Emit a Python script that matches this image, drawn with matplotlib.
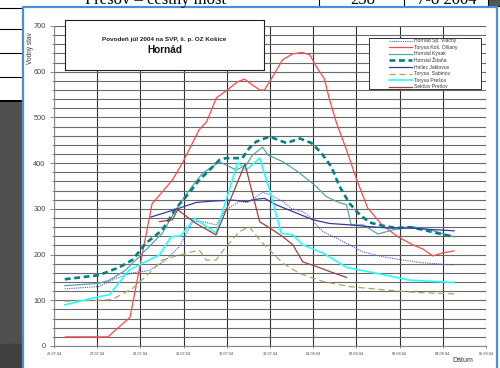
import matplotlib
matplotlib.use('Agg')
import matplotlib.pyplot as plt
from matplotlib.patches import Rectangle

plt.rcParams['font.family'] = ['Liberation Sans', 'DejaVu Sans']

# Days counted from 26.07.04 00:00
date_labels = ['26.07.04', '27.07.04', '28.07.04', '29.07.04', '30.07.04', '31.07.04',
               '01.08.04', '02.08.04', '03.08.04', '04.08.04', '05.08.04']

sp_vlachy_t = [0.25, 1.04, 1.43, 1.82, 2.2, 2.59, 2.9, 3.21, 3.44, 3.75, 3.98, 4.29, 4.48, 4.83, 5.03,
               5.3, 5.49, 5.76, 5.92, 6.07, 6.23, 6.54, 6.84, 7.15, 7.62, 8.08, 8.54, 9.0, 9.26]
sp_vlachy_v = [125, 130, 148, 160, 165, 188, 217, 272, 272, 265, 298, 316, 314, 336, 330,
               316, 301, 294, 283, 265, 250, 236, 221, 206, 195, 188, 182, 179, 177]

olsany_t = [0.26, 1.25, 1.76, 2.27, 2.74, 2.97, 3.36, 3.53, 3.76, 4.01, 4.25, 4.41, 4.52, 4.76, 4.87,
            5.06, 5.29, 5.52, 5.75, 5.92, 6.08, 6.26, 6.38, 6.54, 6.77, 7.01, 7.26, 7.59, 7.96, 8.31,
            8.54, 8.77, 9.0, 9.26]
olsany_v = [20, 20, 63, 311, 363, 400, 473, 490, 543, 560, 578, 584, 576, 560, 560,
            589, 626, 639, 642, 637, 610, 584, 538, 488, 429, 363, 302, 265, 239, 221,
            212, 197, 204, 208]

kysak_t = [0.25, 1.04, 1.28, 1.66, 2.2, 2.51, 2.82, 3.13, 3.44, 3.83, 4.22, 4.45, 4.6, 4.83, 4.95,
           5.3, 5.65, 6.07, 6.3, 6.54, 6.77, 6.88, 7.15, 7.5, 7.85, 8.31, 8.7, 9.26]
kysak_v = [132, 137, 144, 166, 217, 247, 298, 341, 378, 403, 385, 396, 418, 435, 418,
           403, 381, 349, 327, 316, 309, 265, 265, 245, 254, 261, 254, 239]

zdana_t = [0.25, 1.04, 1.51, 1.81, 2.13, 2.51, 2.82, 3.13, 3.36, 3.6, 3.83, 3.98, 4.36, 4.52, 4.68,
           4.99, 5.38, 5.69, 5.96, 6.19, 6.42, 6.61, 6.84, 7.08, 7.31, 7.62, 7.93, 8.24, 8.55, 8.86, 9.26]
zdana_v = [146, 155, 172, 188, 225, 254, 301, 335, 363, 385, 407, 411, 411, 433, 447,
           458, 444, 454, 444, 422, 392, 349, 312, 287, 270, 263, 258, 260, 254, 247, 239]

jaklovce_t = [2.24, 2.82, 3.29, 3.67, 4.14, 4.45, 4.68, 4.87, 5.14, 5.53, 6.0, 6.38, 6.84, 7.31,
              7.77, 8.24, 8.7, 9.26]
jaklovce_v = [282, 299, 314, 317, 319, 316, 321, 323, 309, 294, 276, 268, 265, 261,
              258, 258, 255, 252]

sabinov_t = [0.25, 1.04, 1.35, 1.82, 2.2, 2.51, 2.82, 3.36, 3.52, 3.75, 3.98, 4.29, 4.52, 4.76,
             4.99, 5.3, 5.68, 6.23, 6.84, 7.62, 8.39, 9.26]
sabinov_v = [98, 100, 102, 126, 159, 188, 197, 210, 188, 188, 217, 250, 261, 232,
             210, 181, 159, 141, 130, 123, 117, 114]

presov_t = [0.25, 1.04, 1.28, 1.74, 2.05, 2.44, 2.71, 2.94, 3.25, 3.75, 4.25, 4.45, 4.76, 4.99,
            5.26, 5.53, 5.76, 6.23, 6.77, 7.46, 8.24, 9.26]
presov_v = [90, 108, 112, 166, 181, 199, 239, 241, 279, 247, 401, 385, 411, 341,
            247, 243, 221, 203, 172, 159, 144, 139]

sekcov_t = [2.44, 2.74, 2.86, 3.29, 3.75, 4.42, 4.76, 5.06, 5.3, 5.53, 5.76, 6.07, 6.38, 6.77]
sekcov_v = [272, 276, 298, 268, 243, 398, 272, 254, 239, 221, 184, 174, 163, 150]

series = [
    ('Hornád Sp. Vlachy', sp_vlachy_t, sp_vlachy_v, dict(color='#5a5acc', lw=0.8, ls=(0, (1, 1)))),
    ('Torysa Koš. Olšany', olsany_t, olsany_v, dict(color='#ff4848', lw=0.9, ls='-')),
    ('Hornád Kysak', kysak_t, kysak_v, dict(color='#5aa6a6', lw=0.9, ls='-')),
    ('Hornád Ždaňa', zdana_t, zdana_v, dict(color='#008282', lw=1.9, ls=(0, (2.2, 1.4)))),
    ('Hnilec Jaklovce', jaklovce_t, jaklovce_v, dict(color='#3a3a9a', lw=0.9, ls='-')),
    ('Torysa  Sabinov', sabinov_t, sabinov_v, dict(color='#a8a860', lw=0.9, ls=(0, (5, 3)))),
    ('Torysa Prešov', presov_t, presov_v, dict(color='#22ffff', lw=1.2, ls='-')),
    ('Sekčov Prešov', sekcov_t, sekcov_v, dict(color='#a04040', lw=0.9, ls='-')),
]

fig = plt.figure(figsize=(5, 3.68), dpi=100)

# surrounding document
bg = fig.add_axes([0, 0, 1, 1], zorder=0)
bg.set_xlim(0, 500)
bg.set_ylim(368, 0)
bg.axis('off')
bg.add_patch(Rectangle((0, 101), 22, 267, color='#505050'))
bg.add_patch(Rectangle((0, 344), 22, 24, color='#404040'))
for yy in [8, 29, 53, 77]:
    bg.plot([0, 22], [yy, yy], color='black', lw=0.8)
bg.plot([0, 22], [100.5, 100.5], color='black', lw=1.4)
bg.plot([319, 319], [0, 7], color='black', lw=0.8)
bg.plot([404, 404], [0, 7], color='black', lw=0.8)
bg.add_patch(Rectangle((488, -1), 13, 7, facecolor='#555555', edgecolor='black', lw=0.8))
bg.text(85, 3.5, 'Prešov – cestný most', family='Liberation Serif', fontsize=12, va='baseline')
bg.text(350, 3.5, '258', family='Liberation Serif', fontsize=12, va='baseline')
bg.text(417, 3.5, '7-8 2004', family='Liberation Serif', fontsize=12, va='baseline')
bg.plot([23, 23, 497, 497], [368, 7, 7, 368], color='#4a90d9', lw=1.6)

# chart
ax = fig.add_axes([54 / 500, 22 / 368, 432 / 500, 320 / 368], zorder=1)
ax.set_facecolor('none')
for name, t, v, st in series:
    ax.plot(t, v, color=st['color'], lw=st['lw'], ls=st['ls'], zorder=3)

ax.set_xlim(0, 10)
ax.set_ylim(0, 700)
ax.set_xticks(range(len(date_labels)))
ax.set_xticklabels(date_labels)
ax.set_yticks(range(0, 701, 100))
ax.set_yticks(range(0, 701, 20), minor=True)
ax.grid(which='both', axis='y', color='#6a6a6a', lw=0.8)
ax.grid(which='major', axis='x', color='#333333', lw=0.8)
ax.set_axisbelow(True)
ax.tick_params(axis='x', labelsize=2.8, labelcolor='#444444', length=1.5, width=0.6,
               color='#777777', pad=3)
ax.tick_params(axis='y', which='major', labelsize=5.3, labelcolor='#444444', length=3,
               width=0.6, color='#777777', pad=3)
ax.tick_params(axis='y', which='minor', length=1.5, width=0.6, color='#777777')
for s in ['top', 'right']:
    ax.spines[s].set_visible(False)
for s in ['left', 'bottom']:
    ax.spines[s].set_color('#888888')
    ax.spines[s].set_linewidth(0.8)

fig.text(31 / 500, 1 - 48 / 368, 'Vodný stav', rotation=90, fontsize=4.7, color='#333333',
         ha='center', va='center')
fig.text(463 / 500, 1 - 361 / 368, 'Dátum', fontsize=5, color='#333333', ha='center', va='center')

# title box
tb = fig.add_axes([65 / 500, 1 - 70 / 368, 199 / 500, 50 / 368], zorder=2)
tb.set_xticks([])
tb.set_yticks([])
for s in tb.spines.values():
    s.set_color('#222222')
    s.set_linewidth(0.8)
tb.text(0.5, 0.62, 'Povodeň júl 2004 na SVP, š. p. OZ Košice', ha='center', va='center',
        fontsize=4.6, fontweight='bold', color='#222222', transform=tb.transAxes)
tb.text(0.5, 0.40, 'Hornád', ha='center', va='center', fontsize=7.2, fontweight='bold',
        color='#111111', transform=tb.transAxes)

# legend box
lg = fig.add_axes([369 / 500, 1 - 89 / 368, 112 / 500, 51 / 368], zorder=2)
lg.set_xlim(0, 1)
lg.set_ylim(0, 1)
lg.set_xticks([])
lg.set_yticks([])
for s in lg.spines.values():
    s.set_color('#333333')
    s.set_linewidth(0.7)
for i, (name, t, v, st) in enumerate(series):
    yy = 0.947 - 0.129 * i
    lg.plot([0.18, 0.384], [yy, yy], color=st['color'], lw=st['lw'], ls=st['ls'])
    lg.text(0.40, yy, name, fontsize=3.6, color='#333333', va='center', ha='left')

fig.savefig('out.png', dpi=100)
